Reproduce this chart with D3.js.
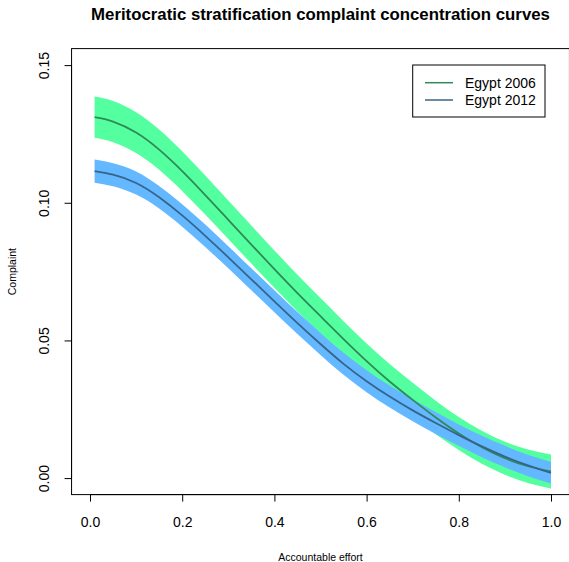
<!DOCTYPE html>
<html>
<head>
<meta charset="utf-8">
<script src="https://cdn.jsdelivr.net/npm/d3@7"></script>
<style>
  body { margin: 0; background: #fff; }
  svg { display: block; font-family: "Liberation Sans", Arial, Helvetica, sans-serif; }
</style>
</head>
<body>
<svg id="chart" width="569" height="562"></svg>
<script>
// ---- data ----
const effort = [0.01, 0.05, 0.10, 0.15, 0.20, 0.25, 0.30, 0.35, 0.40, 0.45, 0.50,
                0.55, 0.60, 0.65, 0.70, 0.75, 0.80, 0.85, 0.90, 0.95, 1.00];
const egypt2006 = [0.1311, 0.1295, 0.1255, 0.1193, 0.1115, 0.1028, 0.0938, 0.0848, 0.0759, 0.0672, 0.0588,
                   0.0505, 0.0425, 0.0351, 0.0284, 0.0220, 0.0162, 0.0112, 0.0072, 0.0043, 0.0024];
const egypt2006se = [0.0075, 0.0075, 0.0074, 0.0073, 0.0072, 0.0071, 0.0070, 0.0069, 0.0068, 0.0067, 0.0066,
                     0.0065, 0.0064, 0.0063, 0.0062, 0.0061, 0.0060, 0.0060, 0.0060, 0.0061, 0.0062];
const egypt2012 = [0.1115, 0.1102, 0.1072, 0.1020, 0.0954, 0.0880, 0.0802, 0.0722, 0.0642, 0.0563, 0.0487,
                   0.0415, 0.0352, 0.0296, 0.0246, 0.0200, 0.0156, 0.0115, 0.0078, 0.0046, 0.0019];
const egypt2012se = [0.0042, 0.0042, 0.0042, 0.0041, 0.0041, 0.0041, 0.0040, 0.0040, 0.0040, 0.0040, 0.0040,
                     0.0040, 0.0040, 0.0040, 0.0040, 0.0040, 0.0039, 0.0039, 0.0039, 0.0039, 0.0039];
const xTicks = [0, 0.2, 0.4, 0.6, 0.8, 1.0];
const yTicks = [0, 0.05, 0.10, 0.15];
const seriesNames = ["Egypt 2006", "Egypt 2012"];

// ---- layout ----
const svg = d3.select("#chart");
const x = d3.scaleLinear().domain([-0.04, 1.04]).range([71.56, 569.44]);
const y = d3.scaleLinear().domain([-0.006, 0.156]).range([494.6, 48.6]);

const series = [
  { name: seriesNames[0], v: egypt2006, se: egypt2006se, band: "#54FF9F", line: "#2E8B57" },
  { name: seriesNames[1], v: egypt2012, se: egypt2012se, band: "#63B8FF", line: "#36648B" }
];

const area = d3.area().x((d) => x(d.x)).y0((d) => y(d.lo)).y1((d) => y(d.hi)).curve(d3.curveNatural);
const line = d3.line().x((d) => x(d.x)).y((d) => y(d.v)).curve(d3.curveNatural);

series.forEach((s) => {
  s.pts = effort.map((e, i) => ({ x: e, v: s.v[i], lo: s.v[i] - s.se[i], hi: s.v[i] + s.se[i] }));
});

series.forEach((s) => {
  svg.append("path").attr("d", area(s.pts)).attr("fill", s.band).attr("stroke", "none");
});
series.forEach((s) => {
  svg.append("path").attr("d", line(s.pts)).attr("fill", "none")
    .attr("stroke", s.line).attr("stroke-width", 1.8);
});

// box
svg.append("rect").attr("x", x(-0.04)).attr("y", y(0.156))
  .attr("width", x(1.04) - x(-0.04)).attr("height", y(-0.006) - y(0.156))
  .attr("fill", "none").attr("stroke", "#000").attr("stroke-width", 1);

// x axis
const gx = svg.append("g").attr("transform", `translate(0,${y(-0.006)})`)
  .call(d3.axisBottom(x).tickValues(xTicks).tickSize(7).tickPadding(15.5).tickFormat(d3.format(".1f")));
gx.select(".domain").remove();
gx.append("line").attr("x1", x(0)).attr("x2", x(1)).attr("y1", 0).attr("y2", 0).attr("stroke", "#000");
gx.selectAll("text").attr("font-size", 14).attr("fill", "#000").attr("font-family", null);
gx.selectAll(".tick line").attr("stroke", "#000");

// y axis
const gy = svg.append("g").attr("transform", `translate(${x(-0.04)},0)`)
  .call(d3.axisLeft(y).tickValues(yTicks).tickSize(7).tickFormat(d3.format(".2f")));
gy.select(".domain").remove();
gy.append("line").attr("x1", 0).attr("x2", 0).attr("y1", y(0)).attr("y2", y(0.15)).attr("stroke", "#000");
gy.selectAll(".tick line").attr("stroke", "#000");
gy.selectAll("text")
  .attr("transform", "rotate(-90)")
  .attr("x", 0).attr("y", -22.3).attr("dy", null)
  .attr("text-anchor", "middle")
  .attr("font-size", 14).attr("fill", "#000").attr("font-family", null);

// titles
svg.append("text").attr("x", (x(-0.04) + x(1.04)) / 2).attr("y", 20)
  .attr("text-anchor", "middle").attr("font-weight", "bold").attr("font-size", 16.8)
  .text("Meritocratic stratification complaint concentration curves");
svg.append("text").attr("x", (x(-0.04) + x(1.04)) / 2).attr("y", 561)
  .attr("text-anchor", "middle").attr("font-size", 10.5).text("Accountable effort");
svg.append("text").attr("transform", `translate(15.5,${(y(-0.006) + y(0.156)) / 2}) rotate(-90)`)
  .attr("text-anchor", "middle").attr("font-size", 10.5).text("Complaint");

// legend
const lg = svg.append("g");
lg.append("rect").attr("x", 412.7).attr("y", 65).attr("width", 132.3).attr("height", 52)
  .attr("fill", "#fff").attr("stroke", "#000").attr("stroke-width", 1);
series.forEach((s, i) => {
  const ly = 82.7 + i * 17.3;
  lg.append("line").attr("x1", 425).attr("x2", 453).attr("y1", ly).attr("y2", ly)
    .attr("stroke", s.line).attr("stroke-width", 1.5);
  lg.append("text").attr("x", 465).attr("y", ly + 5).attr("font-size", 14).text(s.name);
});
</script>
</body>
</html>
